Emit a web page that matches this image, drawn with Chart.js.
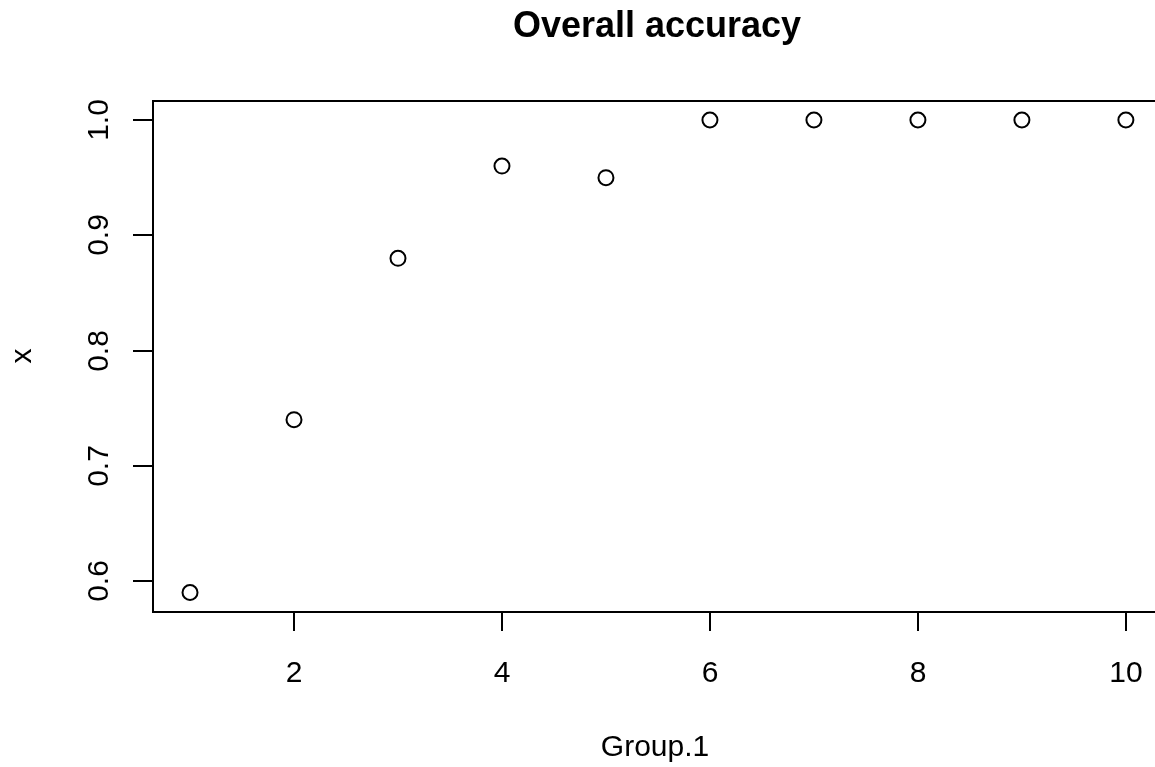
<!DOCTYPE html>
<html>
<head>
<meta charset="utf-8">
<script src="https://cdn.jsdelivr.net/npm/chart.js@4"></script>
<style>
  html, body { margin: 0; padding: 0; background: #fff; }
  canvas { display: block; }
</style>
</head>
<body>
<canvas id="myChart" width="1155" height="767"></canvas>
<script>
// data
const groups = [1, 2, 3, 4, 5, 6, 7, 8, 9, 10]
const accuracy = [0.59, 0.74, 0.88, 0.96, 0.95, 1, 1, 1, 1, 1]
const xTicks = [2, 4, 6, 8, 10]
const yTicks = [0.6, 0.7, 0.8, 0.9, 1.0]

const titleText = 'Overall accuracy'
const xLabel = 'Group.1'
const yLabel = 'x'

const fontFam = '"Liberation Sans", Arial, sans-serif'

// R style box, ticks and labels
const rAxes = {
  id: 'rAxes',
  afterDraw(chart) {
    const ctx = chart.ctx
    const a = chart.chartArea
    const xs = chart.scales.x
    const ys = chart.scales.y
    ctx.save()
    ctx.strokeStyle = '#000'
    ctx.fillStyle = '#000'
    ctx.lineWidth = 2
    // box (right side runs past the canvas)
    ctx.beginPath()
    ctx.moveTo(a.right + 20, a.top)
    ctx.lineTo(a.left, a.top)
    ctx.lineTo(a.left, a.bottom)
    ctx.lineTo(a.right + 20, a.bottom)
    ctx.stroke()

    // x ticks
    ctx.font = '30px ' + fontFam
    ctx.textAlign = 'center'
    ctx.textBaseline = 'alphabetic'
    xTicks.forEach(t => {
      const px = Math.round(xs.getPixelForValue(t))
      ctx.beginPath()
      ctx.moveTo(px, a.bottom)
      ctx.lineTo(px, a.bottom + 19)
      ctx.stroke()
      ctx.fillText(String(t), px, 682)
    })

    // y ticks, labels turned
    yTicks.forEach(t => {
      const py = Math.round(ys.getPixelForValue(t))
      ctx.beginPath()
      ctx.moveTo(a.left, py)
      ctx.lineTo(a.left - 20, py)
      ctx.stroke()
      ctx.save()
      ctx.translate(108, py)
      ctx.rotate(-Math.PI / 2)
      ctx.fillText(t.toFixed(1), 0, 0)
      ctx.restore()
    })

    // axis titles
    ctx.fillText(xLabel, 655, 756)
    ctx.save()
    ctx.translate(31, 356)
    ctx.rotate(-Math.PI / 2)
    ctx.fillText(yLabel, 0, 0)
    ctx.restore()

    // main title
    ctx.font = 'bold 36px ' + fontFam
    ctx.fillText(titleText, 657, 37)
    ctx.restore()
  }
}

const ctx = document.getElementById('myChart')
new Chart(ctx, {
  type: 'scatter',
  data: {
    datasets: [{
      data: groups.map((g, i) => ({ x: g, y: accuracy[i] })),
      pointRadius: 7.5,
      pointHoverRadius: 7.5,
      pointBorderWidth: 2,
      pointBackgroundColor: 'rgba(0,0,0,0)',
      pointBorderColor: '#000',
      clip: false
    }]
  },
  options: {
    responsive: false,
    animation: false,
    layout: { autoPadding: false, padding: { left: 153, top: 101, right: 0, bottom: 155 } },
    plugins: {
      legend: { display: false },
      tooltip: { enabled: false },
      title: { display: false }
    },
    scales: {
      x: { type: 'linear', min: 0.644, max: 10.28, display: false },
      y: { type: 'linear', min: 0.5731, max: 1.0165, display: false }
    }
  },
  plugins: [rAxes]
})
</script>
</body>
</html>
